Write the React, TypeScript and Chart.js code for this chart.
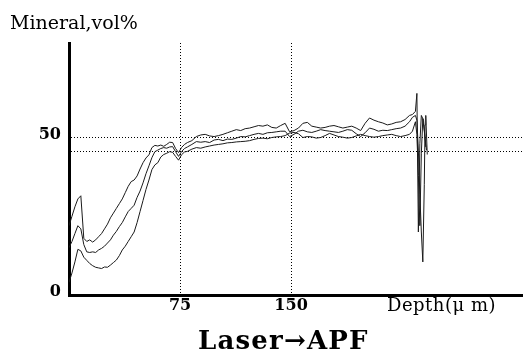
import React, { useEffect, useRef } from "react";
import { Chart, registerables } from "chart.js";

Chart.register(...registerables);

// Depth (µm) sample positions for the main part of the profiles
const depths = [
  0, 2, 4, 6, 8, 10, 12, 14, 16, 18, 20, 22, 24, 26, 28, 30, 32, 34, 36, 38, 40,
  42, 44, 46, 48, 50, 52, 54, 56, 58, 60, 62, 64, 66, 68, 70, 72, 74, 76, 78, 80,
  83, 86, 89, 92, 95, 98, 101, 104, 107, 110, 113, 116, 119, 122, 125, 128, 131,
  134, 137, 140, 143, 146, 149, 152, 155, 158, 161, 164, 167, 170, 173, 176, 179,
  182, 185, 188, 191, 194, 197, 200, 203, 206, 209, 212, 215, 218, 221, 224, 227, 230,
];

// Mineral, vol% — upper profile
const profileA = [
  22, 25, 28, 30.5, 31.5, 18, 17, 17.5, 16.8, 17.5, 18.5, 19.5, 21, 22.5, 24.5, 26, 27.5, 29, 30.5, 32.5, 34.5,
  36, 36.5, 37.8, 40, 42, 43.5, 44.5, 46.8, 47.5, 47.3, 47.6, 47.2, 47.8, 48.5, 48.4, 46.5, 45.2, 46.8, 47.8, 48.4,
  49, 50.3, 50.8, 51, 50.5, 50.3, 50.6, 51, 51.5, 52, 52.5, 52.2, 52.8, 53, 53.4, 53.8, 53.6,
  54, 53.2, 53, 53.8, 54.5, 51.8, 52.2, 53, 54.5, 54.8, 53.6, 53.3, 53, 53.2, 53.6, 53.8,
  53.4, 53, 53.3, 53.6, 53, 52.2, 54.5, 56.2, 55.5, 55, 54.6, 54, 54.3, 54.8, 55, 55.7, 57,
];

// Mineral, vol% — middle profile
const profileB = [
  15, 17, 19.5, 22, 21, 16, 13.7, 13.5, 13.7, 13.5, 14.3, 14.8, 15.5, 16.5, 17.5, 19, 20.2, 21.7, 23, 24.8, 26.5,
  27.5, 28.5, 31, 33, 35.6, 38.5, 41, 43.6, 45.5, 46, 46.5, 46.8, 46.6, 47, 47.1, 45.5, 44, 45.5, 46.5, 47,
  47.8, 48.7, 48.5, 48.7, 48.4, 49.2, 49.4, 49, 49.5, 49.4, 49.8, 50.3, 50.2, 50.6, 51, 51.3, 51,
  51.5, 51.6, 51.8, 52, 52, 50.3, 51, 52, 52.3, 51.8, 51.6, 52, 52.5, 52.2, 52, 51.8,
  51.6, 52, 52.5, 52.3, 51.2, 50.3, 51.5, 53, 52.6, 52, 52.3, 52.2, 52.5, 52.8, 53, 53.6, 55,
];

// Mineral, vol% — lower profile
const profileC = [
  4, 7, 10.5, 14.5, 14, 12, 11, 10, 9.3, 8.8, 8.6, 8.4, 8.9, 8.8, 9.5, 10.3, 11.1, 12.5, 14.3, 15.5, 17,
  18.5, 20, 23, 26.5, 30, 33.5, 36.5, 39.8, 41.3, 42, 43.8, 44.6, 45, 45.5, 45.3, 44, 42.8, 44.5, 45.4, 45.6,
  46.3, 46.8, 46.6, 47, 47.3, 47.6, 47.8, 48, 48.3, 48.4, 48.6, 48.7, 48.8, 49, 49.4, 49.7, 49.8,
  49.6, 50, 50.2, 50.3, 50.6, 51.4, 51.6, 51.2, 50, 50.3, 50.2, 49.8, 50, 50.6, 51.3, 50.8,
  50.3, 50.1, 49.8, 50, 50.5, 51, 50.6, 50.3, 50.1, 50.3, 50.6, 50.8, 51, 50.6, 50.3, 50.6, 51,
];

// Surface-edge artefact (spike) at the end of each profile
const tailDepthA = [232, 234, 235, 236, 237, 238, 239.5, 241];
const tailA = [57.3, 58.3, 64, 20, 48, 57, 55.5, 47];
const tailDepthB = [232, 234, 235, 236, 237, 238, 239, 240, 240.5, 241, 242];
const tailB = [56.4, 57, 55.5, 46, 32, 20, 10.5, 35, 54, 57, 44.6];
const tailDepthC = [232, 234, 235, 236, 237, 238, 239, 240, 241.5];
const tailC = [52, 55, 51, 38, 22, 45, 56, 52, 46];

// Axis ticks
const xTicks = [75, 150];
const yTickLabels = [0, 50];
const yRefLines = [45.5, 50];

const X_MAX = 306;
const Y_MAX = 80;

function toPoints(xs: number[], ys: number[], txs: number[], tys: number[]) {
  const pts = xs.map((x, i) => ({ x, y: ys[i] }));
  return pts.concat(txs.map((x, i) => ({ x, y: tys[i] })));
}

const SERIF = "'DejaVu Serif', serif";

export default function App() {
  const canvasRef = useRef<HTMLCanvasElement | null>(null);

  useEffect(() => {
    const canvas = canvasRef.current;
    if (!canvas) return;
    const lineStyle = {
      borderColor: "#1a1a1a",
      borderWidth: 1,
      pointRadius: 0,
      tension: 0,
      fill: false,
    };
    const chart = new Chart(canvas, {
      type: "line",
      data: {
        datasets: [
          { label: "A", data: toPoints(depths, profileA, tailDepthA, tailA), ...lineStyle },
          { label: "B", data: toPoints(depths, profileB, tailDepthB, tailB), ...lineStyle },
          { label: "C", data: toPoints(depths, profileC, tailDepthC, tailC), ...lineStyle },
        ],
      },
      options: {
        animation: false,
        responsive: false,
        devicePixelRatio: 1,
        parsing: false,
        layout: { padding: { top: 43, right: 1, left: 0, bottom: 0 } },
        plugins: {
          legend: { display: false },
          tooltip: { enabled: false },
          title: { display: false },
        },
        scales: {
          x: {
            type: "linear",
            min: 0,
            max: X_MAX,
            afterBuildTicks: (scale: any) => {
              scale.ticks = xTicks.map((v) => ({ value: v }));
            },
            afterFit: (scale: any) => {
              scale.height = 61;
            },
            ticks: {
              color: "#000",
              font: { family: SERIF, size: 16, weight: "bold" },
              padding: 1,
              maxRotation: 0,
              autoSkip: false,
              callback: (v: any) => String(v),
            },
            grid: {
              drawTicks: false,
              color: "#000",
              lineWidth: 1,
            },
            border: { display: true, color: "#000", width: 3, dash: [1, 2] },
          },
          y: {
            type: "linear",
            min: 0,
            max: Y_MAX,
            afterBuildTicks: (scale: any) => {
              const vals = Array.from(new Set([...yTickLabels, ...yRefLines])).sort((a, b) => a - b);
              scale.ticks = vals.map((v) => ({ value: v }));
            },
            afterFit: (scale: any) => {
              scale.width = 69;
            },
            ticks: {
              color: "#000",
              font: { family: SERIF, size: 16, weight: "bold" },
              padding: 8,
              labelOffset: -3,
              autoSkip: false,
              callback: (v: any) => (yTickLabels.includes(v) ? String(v) : ""),
            },
            grid: {
              drawTicks: false,
              lineWidth: 1,
              color: (ctx: any) => (ctx.tick && yRefLines.includes(ctx.tick.value) ? "#000" : "rgba(0,0,0,0)"),
            },
            border: { display: true, color: "#000", width: 3, dash: [1, 2] },
          },
        },
      },
    } as any);
    return () => chart.destroy();
  }, []);

  const textBase: React.CSSProperties = {
    position: "absolute",
    fontFamily: SERIF,
    color: "#000",
    lineHeight: 1,
    whiteSpace: "nowrap",
    margin: 0,
  };

  return (
    <div
      style={{
        position: "absolute",
        left: 0,
        top: 0,
        width: 523,
        height: 356,
        background: "#fff",
        overflow: "hidden",
      }}
    >
      <canvas ref={canvasRef} width={523} height={356} style={{ position: "absolute", left: 0, top: 0 }} />
      <div style={{ ...textBase, left: 10, top: 13, fontSize: 19 }}>Mineral,vol%</div>
      <div style={{ ...textBase, left: 387, top: 296, fontSize: 18, letterSpacing: 0.5 }}>Depth(μ m)</div>
      <div style={{ ...textBase, left: 198, top: 327, fontSize: 26, fontWeight: "bold", letterSpacing: 1.2 }}>
        Laser→APF
      </div>
    </div>
  );
}
